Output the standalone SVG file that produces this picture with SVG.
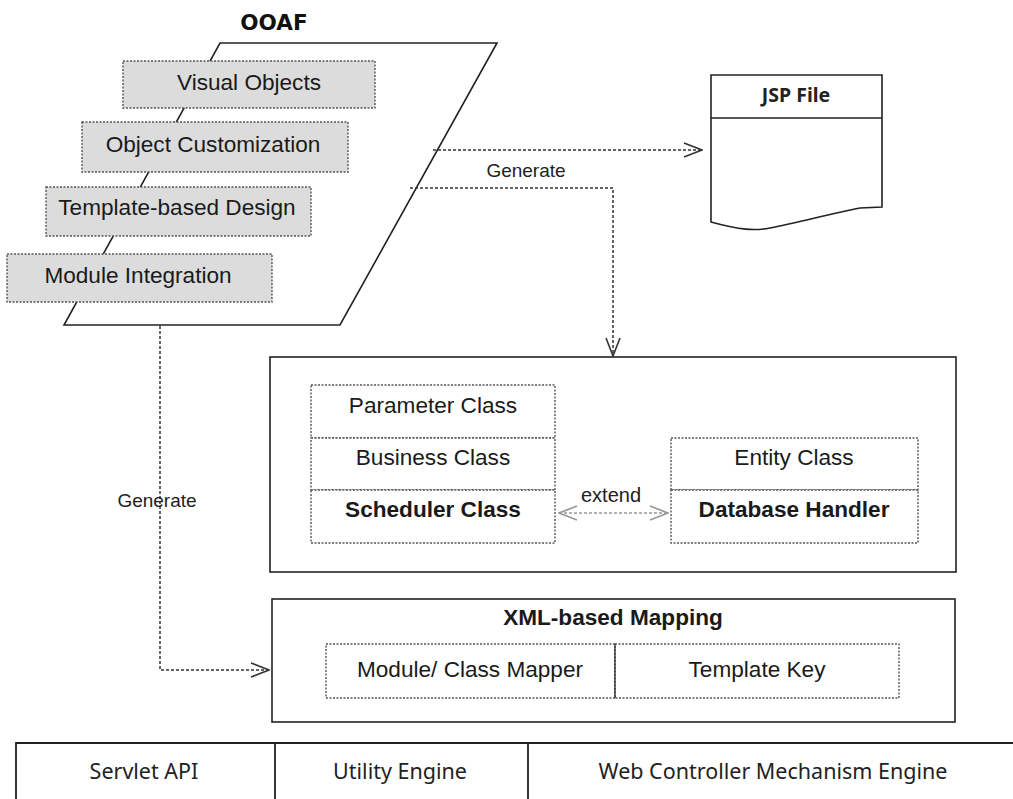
<svg xmlns="http://www.w3.org/2000/svg" width="1013" height="799" viewBox="0 0 1013 799">
<style>
  .t{font-family:"Liberation Sans",Arial,sans-serif;font-size:22.6px;fill:#1a1a1a;text-anchor:middle}
  .b{font-weight:bold}
  .c{font-family:"Noto Sans","Open Sans",sans-serif;font-size:21.5px;fill:#222;text-anchor:middle}
  .solid{fill:#fff;stroke:#222;stroke-width:1.6}
  .dot{stroke:#555;stroke-width:1.4;stroke-dasharray:2 1.5}
  .grey{fill:#dcdcdc}
  .wht{fill:#fff}
  .conn{fill:none;stroke:#333;stroke-width:1.5;stroke-dasharray:3 2}
</style>
<defs>
  <marker id="chev" markerUnits="userSpaceOnUse" markerWidth="20" markerHeight="16" viewBox="0 0 20 16" refX="19" refY="8" orient="auto-start-reverse">
    <path d="M1,1 L19,8 L1,15" fill="none" stroke="#333" stroke-width="1.6"/>
  </marker>
  <marker id="chevg" markerUnits="userSpaceOnUse" markerWidth="20" markerHeight="16" viewBox="0 0 20 16" refX="19" refY="8" orient="auto-start-reverse">
    <path d="M1,1 L19,8 L1,15" fill="none" stroke="#999" stroke-width="1.8"/>
  </marker>
</defs>
<rect width="1013" height="799" fill="#fff"/>

<g id="ooaf">
  <text x="274" y="30" font-family="'DejaVu Sans',Verdana,sans-serif" font-size="21.5" font-weight="bold" fill="#111" text-anchor="middle">OOAF</text>
  <path class="solid" d="M220,43 L497,43 L340,325 L64,325 Z" fill="#fafafa"/>
  <g id="visual-objects"><rect class="dot grey" x="123" y="61" width="252" height="47"/><text class="t" x="249" y="90">Visual Objects</text></g>
  <g id="object-customization"><rect class="dot grey" x="82" y="122" width="266" height="50"/><text class="t" x="213" y="152">Object Customization</text></g>
  <g id="template-design"><rect class="dot grey" x="46" y="187" width="265" height="49"/><text class="t" x="177" y="215">Template-based Design</text></g>
  <g id="module-integration"><rect class="dot grey" x="7" y="254" width="265" height="48"/><text class="t" x="138" y="283">Module Integration</text></g>
</g>

<g id="jsp-file">
  <path class="solid" d="M711,75 L882,75 L882,207 L860,208 C830,214 800,222 770,228 C755,231 740,230 711,222 Z"/>
  <line x1="711" y1="118" x2="882" y2="118" stroke="#222" stroke-width="1.6"/>
  <text x="796" y="102" font-family="'Noto Sans','Open Sans',sans-serif" font-size="19.5" font-weight="bold" fill="#222" text-anchor="middle">JSP File</text>
</g>

<g id="class-layer">
  <rect class="solid" x="270" y="357" width="686" height="215"/>
  <g id="parameter-class"><rect class="dot wht" x="311" y="385" width="244" height="53"/><text class="t" x="433" y="413">Parameter Class</text></g>
  <g id="business-class"><rect class="dot wht" x="311" y="438" width="244" height="52"/><text class="t" x="433" y="465">Business Class</text></g>
  <g id="scheduler-class"><rect class="dot wht" x="311" y="490" width="244" height="53"/><text class="t b" x="433" y="517">Scheduler Class</text></g>
  <g id="entity-class"><rect class="dot wht" x="671" y="438" width="247" height="52"/><text class="t" x="794" y="465">Entity Class</text></g>
  <g id="database-handler"><rect class="dot wht" x="671" y="490" width="247" height="53"/><text class="t b" x="794" y="517">Database Handler</text></g>
</g>

<g id="xml-mapping">
  <rect class="solid" x="272" y="599" width="683" height="123"/>
  <text class="t b" x="613" y="625" font-size="23">XML-based Mapping</text>
  <g id="class-mapper"><rect class="dot wht" x="326" y="644" width="289" height="54"/><text class="t" x="470" y="677">Module/ Class Mapper</text></g>
  <g id="template-key"><rect class="dot wht" x="615" y="644" width="284" height="54"/><text class="t" x="757" y="677">Template Key</text></g>
  <line x1="615" y1="644" x2="615" y2="698" stroke="#333" stroke-width="1.3"/>
</g>

<g id="engines">
  <path d="M1013,743 L16,743 L16,800 M275,743 L275,800 M528,743 L528,800" fill="none" stroke="#222" stroke-width="1.8"/>
  <g id="servlet-api"><text class="c" x="144" y="779">Servlet API</text></g>
  <g id="utility-engine"><text class="c" x="400" y="779">Utility Engine</text></g>
  <g id="web-controller"><text class="c" x="773" y="779">Web Controller Mechanism Engine</text></g>
</g>

<g id="connectors">
  <path class="conn" d="M433,150 L702,150" marker-end="url(#chev)"/>
  <path class="conn" d="M410,188 L613,188 L613,356" marker-end="url(#chev)"/>
  <text x="526" y="177" font-family="'Liberation Sans',Arial,sans-serif" font-size="19" fill="#222" text-anchor="middle">Generate</text>
  <path class="conn" d="M160,326 L160,670 L269,670" marker-end="url(#chev)"/>
  <text x="157" y="507" font-family="'Liberation Sans',Arial,sans-serif" font-size="19" fill="#222" text-anchor="middle">Generate</text>
  <path d="M559,513 L668,513" fill="none" stroke="#999" stroke-width="1.6" stroke-dasharray="3 2" marker-start="url(#chevg)" marker-end="url(#chevg)"/>
  <text x="611" y="502" font-family="'Liberation Sans',Arial,sans-serif" font-size="20" fill="#222" text-anchor="middle">extend</text>
</g>
</svg>
